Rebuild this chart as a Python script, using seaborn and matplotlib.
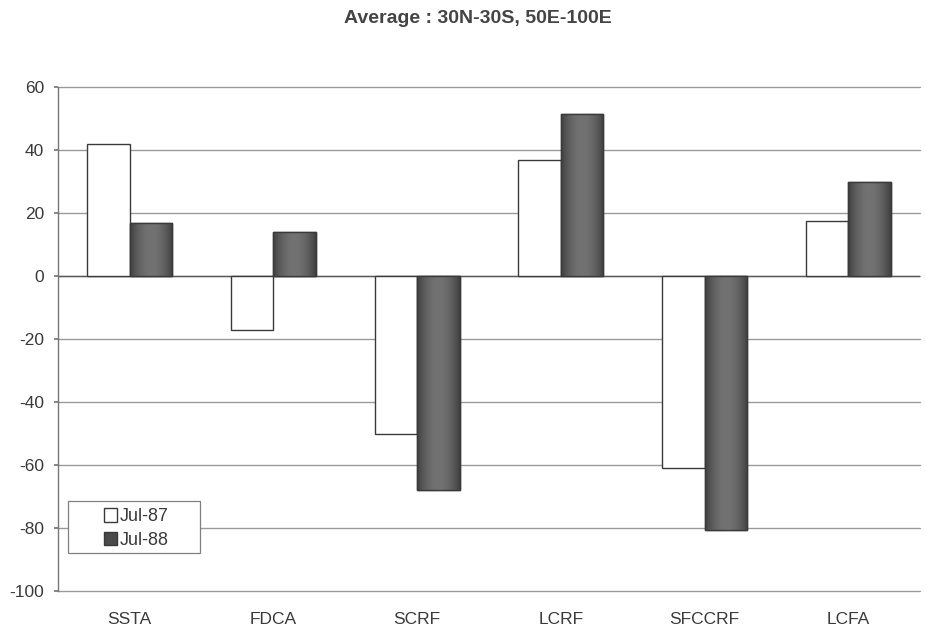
import matplotlib
matplotlib.use("Agg")
import matplotlib.pyplot as plt
from matplotlib.patches import Patch, Rectangle
import numpy as np
import seaborn as sns
import pandas as pd

# Forcing anomalies per variable for two Julys
categories = ["SSTA", "FDCA", "SCRF", "LCRF", "SFCCRF", "LCFA"]
jul87 = [42, -17, -50, 37, -61, 17.5]
jul88 = [17, 14, -68, 51.5, -80.5, 30]
series_names = ["Jul-87", "Jul-88"]
y_ticks = [-100, -80, -60, -40, -20, 0, 20, 40, 60]
title = "Average : 30N-30S, 50E-100E"

df = pd.DataFrame({
    "var": categories * 2,
    "value": jul87 + jul88,
    "month": [series_names[0]] * len(categories) + [series_names[1]] * len(categories),
})

sns.set_theme(style="white")
plt.rcParams["font.family"] = ["Liberation Sans", "DejaVu Sans"]

fill = {"Jul-87": "white", "Jul-88": "#4a4a4a"}
edge = "#3a3a3a"
text_col = "#3a3a3a"

fig = plt.figure(figsize=(9.26, 6.26), dpi=100)
ax = fig.add_axes([0.0626, 0.0559, 0.931, 0.805])

sns.barplot(data=df, x="var", y="value", hue="month", order=categories,
            hue_order=series_names, palette=fill, width=0.59, gap=0,
            edgecolor=edge, linewidth=1.0, legend=False, ax=ax, zorder=3)

# shaded fill for the dark bars: darker at the sides, lighter in the middle
xs = np.linspace(-1, 1, 64)
shade = 1 - np.abs(xs) ** 2
grad = np.tile(shade, (8, 1))
cmap = matplotlib.colors.LinearSegmentedColormap.from_list("bar", ["#404040", "#727272"])
for bar in ax.patches[len(categories):2 * len(categories)]:
    x, y = bar.get_x(), bar.get_y()
    w, h = bar.get_width(), bar.get_height()
    im = ax.imshow(grad, cmap=cmap, vmin=0, vmax=1, aspect="auto",
                   extent=(x, x + w, min(y, y + h), max(y, y + h)),
                   zorder=3.2, interpolation="bilinear")
    im.set_clip_path(bar)
    outline = Rectangle((x, y), w, h, facecolor="none", edgecolor="#3a3a3a",
                        linewidth=1.0, zorder=3.4)
    ax.add_patch(outline)

ax.set_ylim(-100, 60)
ax.set_yticks(y_ticks)
ax.set_yticklabels([str(t) for t in y_ticks])
ax.set_xlim(-0.5, len(categories) - 0.5)
ax.yaxis.grid(True, color="#9a9a9a", linewidth=1.0)
ax.set_axisbelow(True)
for gl in ax.get_ygridlines():
    gl.set_clip_on(False)
ax.axhline(0, color="#5a5a5a", linewidth=1.0, zorder=2)

for s in ["top", "right", "bottom"]:
    ax.spines[s].set_visible(False)
ax.spines["left"].set_color("#777777")
ax.spines["left"].set_linewidth(1.0)

ax.tick_params(axis="y", left=True, length=3, color="#777777", labelsize=12.5,
               labelcolor=text_col, pad=7)
ax.tick_params(axis="x", bottom=False, labelsize=12.5, labelcolor=text_col, pad=9)
ax.set_xlabel("")
ax.set_ylabel("")

# legend box with the entries placed inside it
frame = Rectangle((0.0116, 0.0754), 0.153, 0.103, transform=ax.transAxes,
                  facecolor="white", edgecolor="#808080", linewidth=0.9, zorder=5)
ax.add_patch(frame)
handles = [Patch(facecolor=fill[n], edgecolor=edge, label=n) for n in series_names]
leg = ax.legend(handles=handles, loc="center left", bbox_to_anchor=(0.053, 0.124),
                borderaxespad=0, borderpad=0, frameon=False, fontsize=13,
                handlelength=0.75, handleheight=0.75, handletextpad=0.15,
                labelspacing=0.35)
leg.set_zorder(6)
for t in leg.get_texts():
    t.set_color(text_col)

fig.text(0.516, 0.970, title, ha="center", va="center", fontsize=14,
         fontweight="bold", color="#444444")

fig.savefig("out.png", dpi=100, facecolor="white")
